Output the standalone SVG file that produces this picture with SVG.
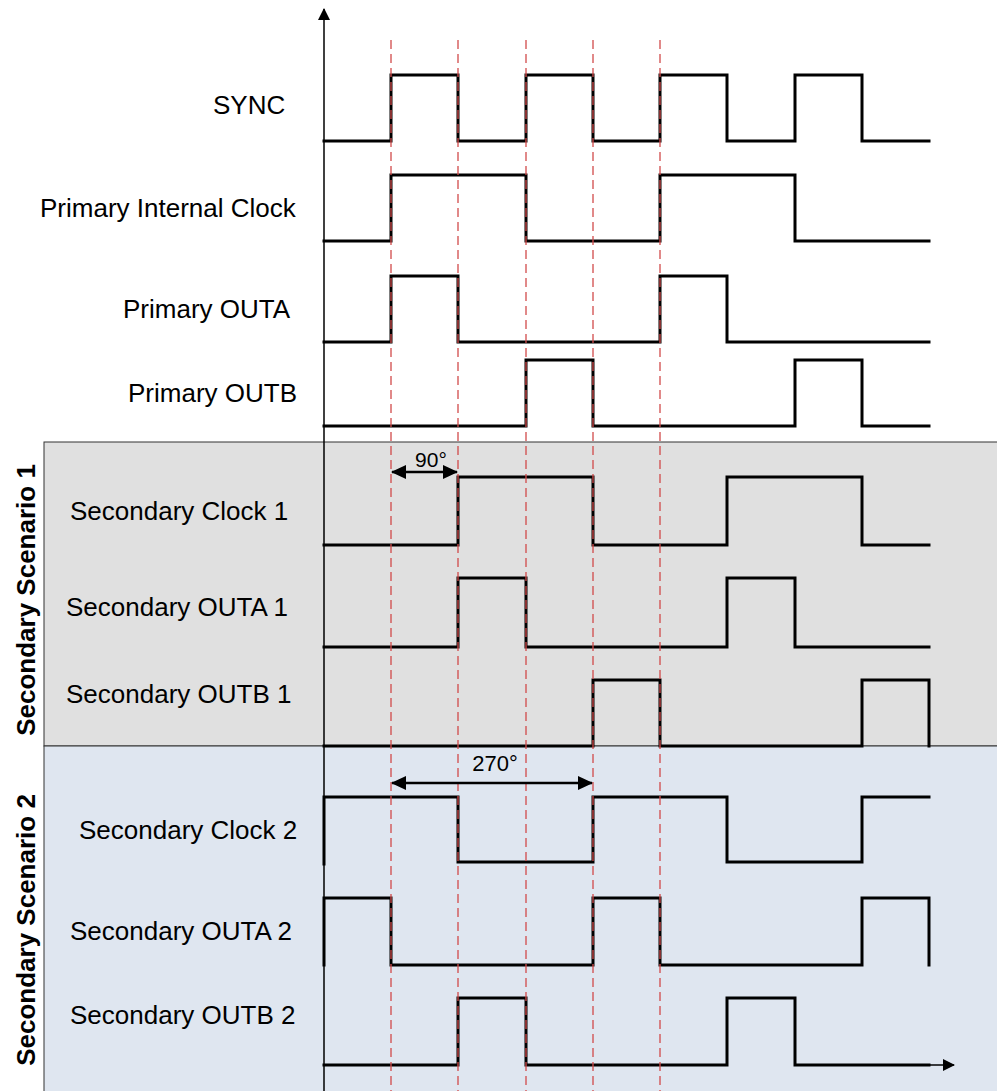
<svg xmlns="http://www.w3.org/2000/svg" width="997" height="1091" viewBox="0 0 997 1091">
<style>
.lbl{font-family:"Liberation Sans",Arial,sans-serif;font-size:26px;fill:#000}
.vl{font-family:"Liberation Sans",Arial,sans-serif;font-size:26px;font-weight:bold;fill:#000}
.ang{font-family:"Liberation Sans",Arial,sans-serif;font-size:21px;fill:#000;text-anchor:middle}
.wave{fill:none;stroke:#000;stroke-width:3;stroke-linejoin:miter;stroke-linecap:square}
.dash{stroke:#d24b4b;stroke-width:1.3;stroke-dasharray:9,5;fill:none}
.axis{stroke:#000;stroke-width:1.5;fill:none}
.dim{stroke:#000;stroke-width:2.5;fill:none}
</style>
<defs>
<marker id="ah" markerWidth="15" markerHeight="14" refX="14" refY="7" orient="auto" markerUnits="userSpaceOnUse">
<polygon points="0,0 15,7 0,14" fill="#000"/>
</marker>
<marker id="ahs" markerWidth="15" markerHeight="14" refX="1" refY="7" orient="auto" markerUnits="userSpaceOnUse">
<polygon points="15,0 0,7 15,14" fill="#000"/>
</marker>
<marker id="axh" markerWidth="12" markerHeight="12" refX="11" refY="6" orient="auto" markerUnits="userSpaceOnUse">
<polygon points="0,0 12,6 0,12" fill="#000"/>
</marker>
</defs>
<rect width="997" height="1091" fill="#fff"/>
<g id="scenario1-band">
<rect x="44" y="442" width="960" height="304" fill="#e0e0e0" stroke="#333" stroke-width="1"/>
<text class="vl" transform="translate(35,600) rotate(-90)" text-anchor="middle">Secondary Scenario 1</text>
</g>
<g id="scenario2-band">
<rect x="44" y="746" width="960" height="350" fill="#dfe6f0" stroke="#333" stroke-width="1"/>
<text class="vl" transform="translate(35,930) rotate(-90)" text-anchor="middle">Secondary Scenario 2</text>
</g>
<g id="axes">
<line class="axis" x1="324" y1="1091" x2="324" y2="9" marker-end="url(#axh)"/>
</g>
<g id="sync">
<text class="lbl" x="213" y="114">SYNC</text>
<polyline class="wave" points="324,141 391,141 391,75 458,75 458,141 526,141 526,75 593,75 593,141 660,141 660,75 727,75 727,141 795,141 795,75 862,75 862,141 929,141"/>
</g>
<g id="primary-internal-clock">
<text class="lbl" x="40" y="217">Primary Internal Clock</text>
<polyline class="wave" points="324,241 391,241 391,175 526,175 526,241 660,241 660,175 795,175 795,241 929,241"/>
</g>
<g id="primary-outa">
<text class="lbl" x="123" y="318">Primary OUTA</text>
<polyline class="wave" points="324,342 391,342 391,276 458,276 458,342 660,342 660,276 727,276 727,342 929,342"/>
</g>
<g id="primary-outb">
<text class="lbl" x="128" y="402">Primary OUTB</text>
<polyline class="wave" points="324,426 526,426 526,360 593,360 593,426 795,426 795,360 862,360 862,426 929,426"/>
</g>
<g id="secondary-clock-1">
<text class="lbl" x="70" y="520">Secondary Clock 1</text>
<polyline class="wave" points="324,545 458,545 458,477 593,477 593,545 727,545 727,477 862,477 862,545 929,545"/>
</g>
<g id="secondary-outa-1">
<text class="lbl" x="66" y="616">Secondary OUTA 1</text>
<polyline class="wave" points="324,647 458,647 458,578 526,578 526,647 727,647 727,578 795,578 795,647 929,647"/>
</g>
<g id="secondary-outb-1">
<text class="lbl" x="66" y="703">Secondary OUTB 1</text>
<polyline class="wave" points="324,746 593,746 593,680 660,680 660,746 862,746 862,680 929,680 929,746"/>
</g>
<g id="secondary-clock-2">
<text class="lbl" x="79" y="839">Secondary Clock 2</text>
<polyline class="wave" points="324,864 324,797 458,797 458,862 593,862 593,797 727,797 727,862 862,862 862,797 929,797"/>
</g>
<g id="secondary-outa-2">
<text class="lbl" x="70" y="940">Secondary OUTA 2</text>
<polyline class="wave" points="324,965 324,898 391,898 391,965 593,965 593,898 660,898 660,965 862,965 862,898 929,898 929,965"/>
</g>
<g id="secondary-outb-2">
<text class="lbl" x="70" y="1024">Secondary OUTB 2</text>
<polyline class="wave" points="324,1065 458,1065 458,998 526,998 526,1065 727,1065 727,998 795,998 795,1065 929,1065"/>
<line class="axis" x1="929" y1="1065" x2="954" y2="1065" marker-end="url(#axh)"/>
</g>
<g id="connectors">
<line class="dash" x1="391" y1="40" x2="391" y2="1091"/>
<line class="dash" x1="458" y1="40" x2="458" y2="1091"/>
<line class="dash" x1="526" y1="40" x2="526" y2="1091"/>
<line class="dash" x1="593" y1="40" x2="593" y2="1091"/>
<line class="dash" x1="660" y1="40" x2="660" y2="1091"/>
<line class="dim" x1="392" y1="472" x2="457" y2="472" marker-start="url(#ahs)" marker-end="url(#ah)"/>
<line class="dim" x1="392" y1="783" x2="592" y2="783" marker-start="url(#ahs)" marker-end="url(#ah)"/>
</g>
<g id="angle-labels">
<text class="ang" x="431" y="467">90°</text>
<text class="ang" x="495" y="771" style="font-size:22px">270°</text>
</g>
</svg>
